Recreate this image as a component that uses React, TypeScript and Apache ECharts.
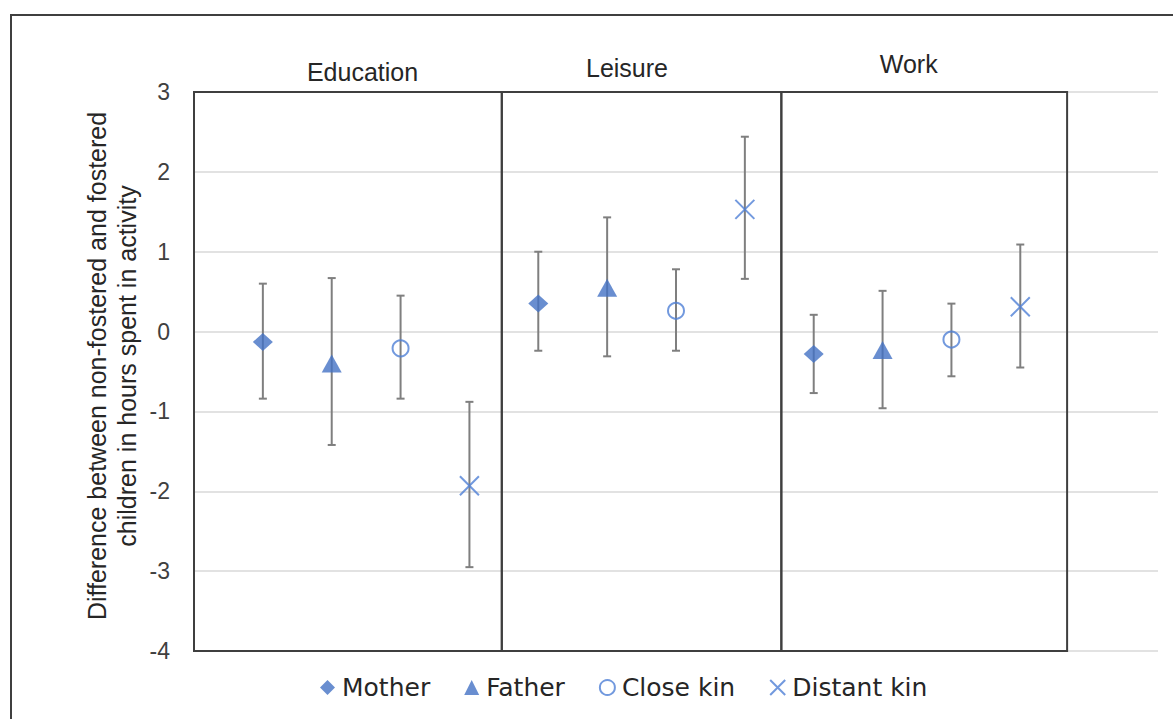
import React, { useEffect, useRef } from "react";
import * as echarts from "echarts";

// ---- data ----
const CATEGORIES = ["Education", "Leisure", "Work"];
const GROUPS = ["Mother", "Father", "Close kin", "Distant kin"];

const MOTHER = [-0.13, 0.35, -0.28];
const MOTHER_LOW = [-0.84, -0.24, -0.77];
const MOTHER_HIGH = [0.6, 1.0, 0.21];

const FATHER = [-0.4, 0.55, -0.23];
const FATHER_LOW = [-1.42, -0.31, -0.96];
const FATHER_HIGH = [0.67, 1.43, 0.51];

const CLOSE_KIN = [-0.21, 0.26, -0.1];
const CLOSE_KIN_LOW = [-0.84, -0.24, -0.56];
const CLOSE_KIN_HIGH = [0.45, 0.78, 0.35];

const DISTANT_KIN = [-1.93, 1.53, 0.31];
const DISTANT_KIN_LOW = [-2.95, 0.66, -0.45];
const DISTANT_KIN_HIGH = [-0.88, 2.44, 1.09];

const Y_MIN = -4;
const Y_MAX = 3;

// ---- layout (panel frames in x-axis units, title placement) ----
const PANEL_START = [0, 4.47, 8.53];
const PANEL_END = [4.47, 8.53, 12.68];
const TITLE_X = [2.447, 6.288, 10.38];
const TITLE_LIFT = [20, 24, 28];

const FONT = "'Liberation Sans', Arial, Helvetica, sans-serif";
const BLUE = "#4472C4";
const LIGHT_BLUE = "#4f80d6";

const VALUES = [MOTHER, FATHER, CLOSE_KIN, DISTANT_KIN];
const LOWS = [MOTHER_LOW, FATHER_LOW, CLOSE_KIN_LOW, DISTANT_KIN_LOW];
const HIGHS = [MOTHER_HIGH, FATHER_HIGH, CLOSE_KIN_HIGH, DISTANT_KIN_HIGH];

const xPos = (ci: number, si: number) => ci * GROUPS.length + si + 1;

export default function App() {
  const ref = useRef<HTMLDivElement>(null);

  useEffect(() => {
    if (!ref.current) return;
    const chart = echarts.init(ref.current, undefined, { renderer: "svg" });

    const errData: number[][] = [];
    GROUPS.forEach((_, si) => {
      CATEGORIES.forEach((__, ci) => {
        errData.push([xPos(ci, si), LOWS[si][ci], HIGHS[si][ci]]);
      });
    });

    const panelData = CATEGORIES.map((_, ci) => [PANEL_START[ci], PANEL_END[ci], TITLE_X[ci]]);

    const symbolStyles: any[] = [
      { symbol: "diamond", symbolSize: [20, 18], itemStyle: { color: BLUE } },
      { symbol: "triangle", symbolSize: [20, 18], itemStyle: { color: BLUE } },
      {
        symbol: "circle",
        symbolSize: 16,
        itemStyle: { color: "rgba(255,255,255,0)", borderColor: LIGHT_BLUE, borderWidth: 2 },
      },
      {
        symbol: "path://M0,0L10,10M10,0L0,10",
        symbolSize: 19,
        itemStyle: { color: "rgba(255,255,255,0)", borderColor: LIGHT_BLUE, borderWidth: 2 },
      },
    ];

    const scatterSeries = GROUPS.map((g, si) => ({
      name: g,
      type: "scatter",
      z: 5,
      ...symbolStyles[si],
      data: CATEGORIES.map((_, ci) => [xPos(ci, si), VALUES[si][ci]]),
    }));

    const option: any = {
      animation: false,
      backgroundColor: "#ffffff",
      grid: { left: 194, right: 15, top: 92, bottom: 68 },
      xAxis: {
        type: "value",
        min: 0,
        max: 14,
        axisLine: { show: false },
        axisTick: { show: false },
        axisLabel: { show: false },
        splitLine: { show: false },
      },
      yAxis: {
        type: "value",
        min: Y_MIN,
        max: Y_MAX,
        interval: 1,
        axisLine: { show: false },
        axisTick: { show: false },
        axisLabel: { fontSize: 23, fontFamily: FONT, color: "#404040", margin: 24 },
        splitLine: { lineStyle: { color: "#d9d9d9", width: 1.5 } },
      },
      legend: {
        data: GROUPS,
        left: 320,
        top: 675,
        padding: 0,
        itemGap: 34,
        itemWidth: 15,
        itemHeight: 15,
        textStyle: { fontSize: 25, fontFamily: "'DejaVu Sans', sans-serif", color: "#262626", padding: [0, 0, 0, 2] },
      },
      graphic: [
        {
          type: "rect",
          shape: { x: 11, y: 15, width: 1300, height: 900 },
          style: { fill: "none", stroke: "#3f3f3f", lineWidth: 2 },
          silent: true,
        },
        {
          type: "text",
          x: 112,
          y: 366,
          rotation: Math.PI / 2,
          style: {
            text: "Difference between non-fostered and fostered\nchildren in hours spent in activity",
            fontSize: 25,
            fontFamily: FONT,
            fill: "#262626",
            align: "center",
            verticalAlign: "middle",
            lineHeight: 30,
          },
        },
      ],
      series: [
        {
          type: "custom",
          name: "panels",
          z: 2,
          silent: true,
          clip: false,
          data: panelData,
          renderItem: (params: any, api: any) => {
            const i = params.dataIndex;
            const p0 = api.coord([api.value(0), Y_MAX]);
            const p1 = api.coord([api.value(1), Y_MIN]);
            const t = api.coord([api.value(2), Y_MAX]);
            return {
              type: "group",
              children: [
                {
                  type: "rect",
                  shape: { x: p0[0], y: p0[1], width: p1[0] - p0[0], height: p1[1] - p0[1] },
                  style: { fill: "none", stroke: "#3f3f3f", lineWidth: 2 },
                },
                {
                  type: "text",
                  x: t[0],
                  y: t[1] - TITLE_LIFT[i],
                  style: {
                    text: CATEGORIES[i],
                    fontSize: 25,
                    fontFamily: FONT,
                    fill: "#262626",
                    align: "center",
                    verticalAlign: "middle",
                  },
                },
              ],
            };
          },
        },
        {
          type: "custom",
          name: "error bars",
          z: 3,
          silent: true,
          data: errData,
          renderItem: (params: any, api: any) => {
            const lo = api.coord([api.value(0), api.value(1)]);
            const hi = api.coord([api.value(0), api.value(2)]);
            const cap = 4;
            const style = { stroke: "#7f7f7f", lineWidth: 2 };
            return {
              type: "group",
              children: [
                { type: "line", shape: { x1: lo[0], y1: lo[1], x2: hi[0], y2: hi[1] }, style },
                { type: "line", shape: { x1: lo[0] - cap, y1: lo[1], x2: lo[0] + cap, y2: lo[1] }, style },
                { type: "line", shape: { x1: hi[0] - cap, y1: hi[1], x2: hi[0] + cap, y2: hi[1] }, style },
              ],
            };
          },
        },
        ...scatterSeries,
      ],
    };

    chart.setOption(option);
    return () => chart.dispose();
  }, []);

  return (
    <div
      ref={ref}
      style={{ position: "absolute", left: 0, top: 0, width: 1173, height: 719, background: "#fff" }}
    />
  );
}
